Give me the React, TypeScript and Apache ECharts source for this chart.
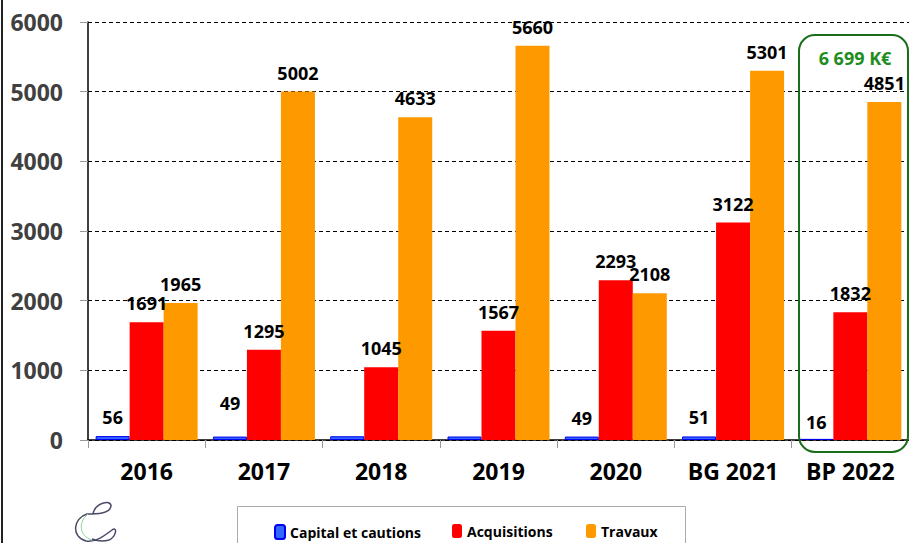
import React, { useEffect, useRef } from 'react';
import * as echarts from 'echarts';

const categories = ['2016', '2017', '2018', '2019', '2020', 'BG 2021', 'BP 2022'];
const capital = [56, 49, 54, 50, 49, 51, 16];
const capitalLabelShown = [true, true, false, false, true, true, true];
const capitalLabelDistance = [10, 25, 10, 10, 10, 10, 8];
const acquisitions = [1691, 1295, 1045, 1567, 2293, 3122, 1832];
const travaux = [1965, 5002, 4633, 5660, 2108, 5301, 4851];
const seriesNames = ['Capital et cautions', 'Acquisitions', 'Travaux'];
const yMax = 6000;
const yInterval = 1000;
const totalLabel = '6 699 K€';

const FONT = "'Open Sans', 'DejaVu Sans', sans-serif";

const logoPath =
  'M 93 514 C 95 503, 111 499, 111 506 C 110 514, 96 514, 87 514 C 73 518, 71 537, 86 541 C 95 543, 104 536, 112 530 C 118 526, 116 537, 109 540 C 103 542, 97 541, 92 539';
const logoInner = 'M 88 514 C 78 522, 79 536, 92 540';

export default function App() {
  const ref = useRef<HTMLDivElement>(null);
  useEffect(() => {
    if (!ref.current) return;
    try {
      echarts.graphic.registerShape('logoC', echarts.graphic.extendPath(logoPath, {}));
      echarts.graphic.registerShape('logoInner', echarts.graphic.extendPath(logoInner, {}));
    } catch (e) {}
    const chart = echarts.init(ref.current, null, { renderer: 'svg' });
    const labelBase = {
      show: true,
      position: 'top',
      distance: 10,
      color: '#000',
      fontFamily: FONT,
      fontWeight: 'bold',
      fontSize: 18,
    };
    const legendCommon = {
      top: 524,
      padding: 0,
      itemWidth: 10,
      itemHeight: 14,
      itemGap: 0,
      textStyle: { fontFamily: FONT, fontWeight: 'bold', fontSize: 14, color: '#000' },
    };
    chart.setOption({
      animation: false,
      backgroundColor: '#fff',
      grid: { left: 88, top: 22, width: 823, bottom: 103, containLabel: false },
      legend: [
        { ...legendCommon, left: 274, data: [seriesNames[0]] },
        { ...legendCommon, left: 452, data: [seriesNames[1]] },
        { ...legendCommon, left: 586, data: [seriesNames[2]] },
      ],
      xAxis: {
        type: 'category',
        data: categories,
        axisLine: { lineStyle: { color: '#000', width: 1.5 } },
        axisTick: { show: true, length: 8, lineStyle: { color: '#999' } },
        axisLabel: {
          color: '#000',
          fontFamily: FONT,
          fontWeight: 'bold',
          fontSize: 23,
          margin: 19,
          interval: 0,
        },
      },
      yAxis: {
        type: 'value',
        min: 0,
        max: yMax,
        interval: yInterval,
        axisLine: { show: true, lineStyle: { color: '#000', width: 1.5 } },
        axisTick: { show: true, length: 8, lineStyle: { color: '#999' } },
        axisLabel: {
          color: '#404040',
          fontFamily: FONT,
          fontWeight: 'bold',
          fontSize: 23,
          margin: 25,
          formatter: (v: number) => String(v),
        },
        splitLine: { show: true, lineStyle: { color: '#000', type: [4, 3], width: 1 } },
      },
      series: [
        {
          name: seriesNames[0],
          type: 'bar',
          barWidth: 34,
          barGap: '0%',
          itemStyle: { color: '#3366ff', borderColor: '#0000ee', borderWidth: 1 },
          data: capital.map((v, i) => ({
            value: v,
            label: { ...labelBase, show: capitalLabelShown[i], distance: capitalLabelDistance[i] },
          })),
          label: labelBase,
        },
        {
          name: seriesNames[1],
          type: 'bar',
          barWidth: 34,
          barGap: '0%',
          itemStyle: { color: '#ff0000' },
          data: acquisitions,
          label: labelBase,
        },
        {
          name: seriesNames[2],
          type: 'bar',
          barWidth: 34,
          barGap: '0%',
          itemStyle: { color: '#ff9900' },
          data: travaux,
          label: labelBase,
        },
      ],
      graphic: [
        { type: 'rect', shape: { x: 1, y: 0, width: 2, height: 543 }, style: { fill: '#222' }, silent: true },
        {
          type: 'rect',
          shape: { x: 237.5, y: 506.5, width: 448, height: 60 },
          style: { fill: 'none', stroke: '#aaa', lineWidth: 1 },
          silent: true,
        },
        {
          type: 'rect',
          shape: { x: 799, y: 35, width: 109, height: 417, r: 16 },
          style: { fill: 'none', stroke: '#1a6e1a', lineWidth: 2 },
          silent: true,
          z: 10,
        },
        {
          type: 'text',
          x: 855,
          y: 58,
          style: {
            text: totalLabel,
            fill: '#1e8c1e',
            font: `bold 18px ${FONT}`,
            align: 'center',
            verticalAlign: 'middle',
          },
          z: 10,
        },
        { type: 'logoC', x: 0, y: 0, style: { fill: 'none', stroke: '#4a4a68', lineWidth: 1.5 }, silent: true },
        { type: 'logoInner', x: 0, y: 0, style: { fill: 'none', stroke: '#8fcf9f', lineWidth: 1 }, silent: true },
      ],
    });
    return () => chart.dispose();
  }, []);
  return (
    <div
      ref={ref}
      style={{ position: 'fixed', left: 0, top: 0, width: 909, height: 543, background: '#fff' }}
    />
  );
}
